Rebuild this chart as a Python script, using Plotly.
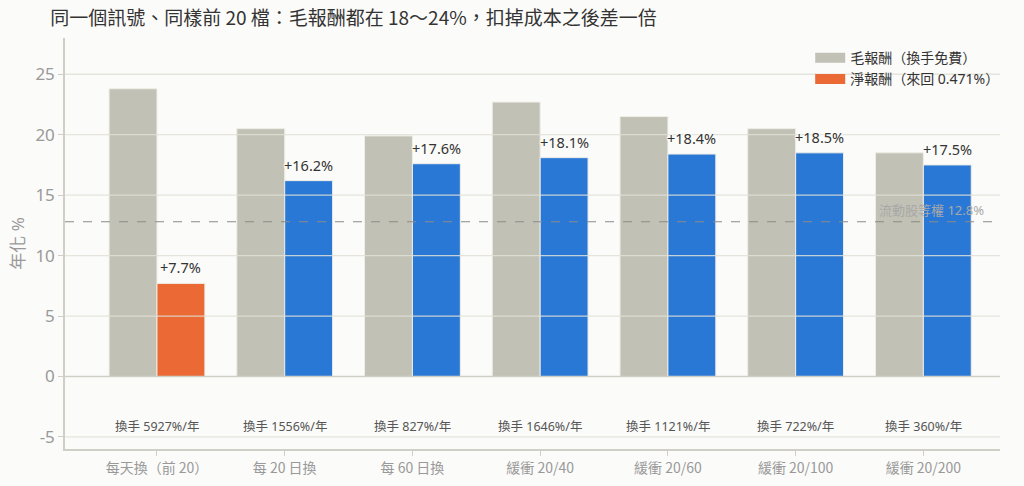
import plotly.graph_objects as go

# 策略類別
strategies = ["每天換（前 20）", "每 20 日換", "每 60 日換", "緩衝 20/40",
              "緩衝 20/60", "緩衝 20/100", "緩衝 20/200"]
# 毛報酬（換手免費）
gross = [23.8, 20.5, 19.9, 22.7, 21.5, 20.5, 18.5]
# 淨報酬（來回 0.471%）
net = [7.7, 16.2, 17.6, 18.1, 18.4, 18.5, 17.5]
# 年換手率
turnover = [5927, 1556, 827, 1646, 1121, 722, 360]
benchmark = 12.8
yticks = [-5, 0, 5, 10, 15, 20, 25]

FONT = "Noto Sans, Noto Sans CJK TC"
FONT_TC = "Noto Sans CJK HK, Noto Sans CJK TC"
BG = "#fbfbf9"
GREY = "#c2c1b5"
BLUE = "#2a78d6"
ORANGE = "#ea6934"
HALO = ", ".join(f"{dx}px {dy}px 1px {BG}" for dx in (-1, 1) for dy in (-1, 1))

net_colors = [ORANGE] + [BLUE] * (len(net) - 1)
gross_name = "毛報酬（換手免費）"
net_name = "淨報酬（來回 0.471%）"

fig = go.Figure()
fig.add_trace(go.Bar(
    x=strategies, y=gross, name=gross_name, showlegend=False,
    marker=dict(color=GREY, line=dict(color="#eeede6", width=1)),
))
fig.add_trace(go.Bar(
    x=strategies, y=net, name=net_name, showlegend=False,
    marker=dict(color=net_colors, line=dict(color="#eeede6", width=1)),
))
# 圖例用的長方色塊
for name, color in [(gross_name, GREY), (net_name, ORANGE)]:
    fig.add_trace(go.Scatter(x=[None], y=[None], mode="lines", name=name,
                             line=dict(color=color, width=10)))

# 格線畫在長條上方
for t in yticks:
    if t == 0:
        continue
    fig.add_hline(y=t, line=dict(color="rgba(225,224,216,0.85)", width=1.3),
                  layer="above")
fig.add_hline(y=0, line=dict(color="#cfcfc6", width=1.5), layer="above")

# 流動股等權基準線
fig.add_hline(y=benchmark, line=dict(color="#8a8a8a", width=1.2, dash="dash"),
              layer="above")
fig.add_annotation(x=1, xref="paper", y=benchmark, yref="y",
                   text=f"流動股等權 {benchmark}%", showarrow=False,
                   xanchor="right", yanchor="bottom", xshift=-14, yshift=1,
                   font=dict(size=13, color="#a8a8a8", family=FONT))

# 淨報酬標籤
for s, v in zip(strategies, net):
    fig.add_annotation(x=s, y=v, text=f"+{v:.1f}%", showarrow=False,
                       xshift=24, yanchor="bottom", yshift=4,
                       font=dict(size=14.5, color="#333333", family=FONT,
                                 shadow=HALO))

# 換手率標註
for s, t in zip(strategies, turnover):
    fig.add_annotation(x=s, y=-4.1, text=f"換手 {t}%/年", showarrow=False,
                       font=dict(size=12.5, color="#555555", family=FONT))

fig.update_layout(
    width=1024, height=486,
    paper_bgcolor=BG, plot_bgcolor=BG,
    margin=dict(l=65, r=24, t=38, b=37),
    font=dict(family=FONT, color="#333333"),
    title=dict(text="同一個訊號、同樣前 20 檔：毛報酬都在 18～24%，扣掉成本之後差一倍",
               x=0.049, xanchor="left", y=0.963, yanchor="middle",
               font=dict(size=19, color="#333333", family=FONT_TC)),
    barmode="group", bargap=0.25, bargroupgap=0,
    showlegend=True,
    legend=dict(x=0.797, y=0.99, xanchor="left", yanchor="top",
                bgcolor="rgba(0,0,0,0)", font=dict(size=14, color="#333333")),
    xaxis=dict(range=[-0.72, 6.6], showline=True, linecolor="#cfcfc6",
               linewidth=1.5, ticks="outside", tickcolor="#cfcfc6",
               ticklen=5, tickfont=dict(size=14, color="#999999", family=FONT_TC),
               showgrid=False, automargin=False),
    yaxis=dict(range=[-6, 28], tickvals=yticks,
               ticktext=[str(t) for t in yticks], showgrid=False,
               showline=True, linecolor="#cfcfc6", linewidth=1.5,
               ticks="outside", tickcolor="#cfcfc6", ticklen=5,
               tickfont=dict(size=17, color="#999999"),
               zeroline=False, automargin=False,
               title=dict(text="年化 %", font=dict(size=17, color="#999999"),
                          standoff=6)),
)

# 去掉頁面預設邊距
fig.write_html("out.html", config={"displayModeBar": False},
               post_script="document.body.style.margin='0';"
                           "document.body.style.background='#fbfbf9';")
